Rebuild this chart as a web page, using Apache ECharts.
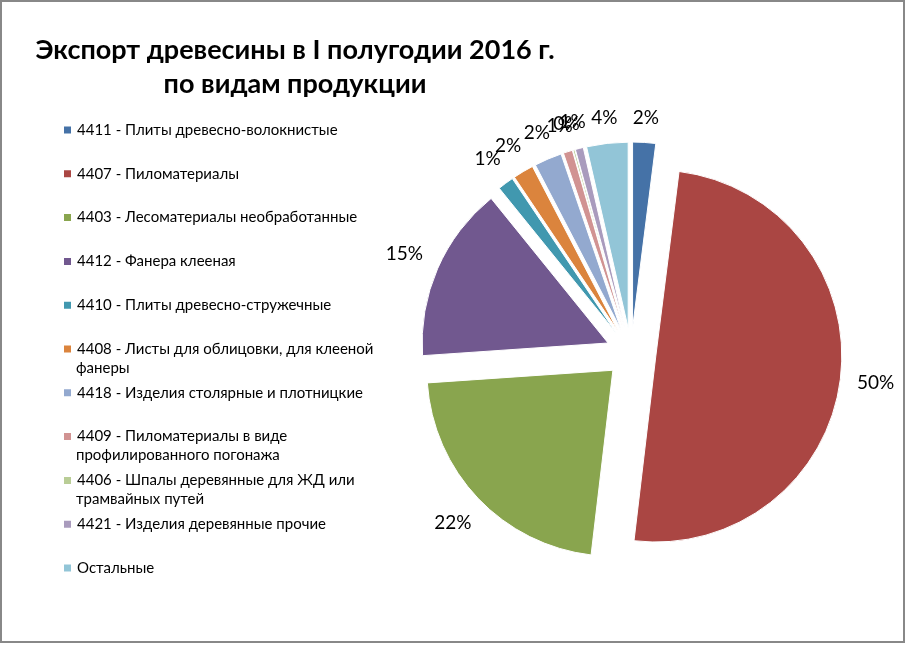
<!DOCTYPE html>
<html>
<head>
<meta charset="utf-8">
<script src="https://cdn.jsdelivr.net/npm/echarts@6/dist/echarts.min.js"></script>
<style>
html,body{margin:0;padding:0;background:#fff;}
#chart{width:907px;height:645px;}
</style>
</head>
<body>
<div id="chart"></div>
<script>
// ---- data ----
const titleLines = ['Экспорт древесины в I полугодии 2016 г.', 'по видам продукции'];
const legendLines = [
  ['4411 - Плиты древесно-волокнистые'],
  ['4407 - Пиломатериалы'],
  ['4403 - Лесоматериалы необработанные'],
  ['4412 - Фанера клееная'],
  ['4410 - Плиты древесно-стружечные'],
  ['4408 - Листы для облицовки, для клееной', 'фанеры'],
  ['4418 - Изделия столярные и плотницкие'],
  ['4409 - Пиломатериалы в виде', 'профилированного погонажа'],
  ['4406 - Шпалы деревянные для ЖД или', 'трамвайных путей'],
  ['4421 - Изделия деревянные прочие'],
  ['Остальные']
];
const categories = legendLines.map(l => l.join(' '));
const shares = [2.0, 50.0, 22.1, 15.3, 1.4, 1.8, 2.4, 0.8, 0.15, 0.7, 3.6];
const colors = ['#4572A7', '#AA4643', '#89A54E', '#71588F', '#4198AF', '#DB843D',
                '#93A9CF', '#D19392', '#B9CD96', '#A99BBD', '#92C5D7'];

// ---- chart ----
const chart = echarts.init(document.getElementById('chart'), null, {renderer: 'canvas'});
const FONT = 'Lato, "Noto Sans", "Liberation Sans", sans-serif';
const LABEL_FONT_SIZE = 19;

const CX = 631, CY = 353, R = 186, OFFSET = 25, LABEL_GAP = 13;
const LABEL_R = R + OFFSET + LABEL_GAP;   // base radius of label centres
const legendCenter0 = 130, legendStep = 43.8, legendRowH = 18;

const contTexts = [];
legendLines.forEach((lines, i) => {
  for (let k = 1; k < lines.length; k++) {
    contTexts.push({
      type: 'text', x: 76, y: legendCenter0 + i * legendStep + k * 19,
      style: {text: lines[k], font: '15px ' + FONT, fill: '#000', verticalAlign: 'middle'}
    });
  }
});

const total = shares.reduce((a, b) => a + b, 0);
function midAngle(idx) { // clockwise from 12 o'clock, radians
  let before = 0;
  for (let i = 0; i < idx; i++) before += shares[i];
  return (before + shares[idx] / 2) / total * 2 * Math.PI;
}
const measureCtx = document.createElement('canvas').getContext('2d');
measureCtx.font = LABEL_FONT_SIZE + 'px ' + FONT;
function pctText(idx) { return Math.round(shares[idx] / total * 100) + '%'; }
function labelPush(idx) { // push label box outward so its near edge clears the pie
  const a = midAngle(idx);
  const dx = Math.sin(a), dy = -Math.cos(a);
  const w = measureCtx.measureText(pctText(idx)).width, h = 16;
  const half = (w / 2) * Math.abs(dx) + (h / 2) * Math.abs(dy);
  return [half * dx, half * dy];
}

const option = {
  animation: false,
  color: colors,
  legend: {
    orient: 'vertical',
    left: 62, top: legendCenter0 - legendRowH / 2,
    padding: 0,
    itemWidth: 9, itemHeight: 9,
    itemGap: legendStep - legendRowH,
    icon: 'rect',
    selectedMode: false,
    data: categories,
    formatter: name => legendLines[categories.indexOf(name)][0],
    textStyle: {fontFamily: FONT, fontSize: 15, color: '#000', lineHeight: legendRowH}
  },
  graphic: [
    {type: 'rect', shape: {x: 1, y: 1, width: 903, height: 641}, style: {fill: 'none', stroke: '#888', lineWidth: 2}},
    {type: 'text', x: 295, y: 67,
     style: {text: titleLines.join('\n'), font: 'bold 27px ' + FONT, fill: '#000', align: 'center', verticalAlign: 'middle', lineHeight: 34}}
  ].concat(contTexts),
  series: [{
    type: 'pie',
    center: [CX, CY],
    radius: R,
    startAngle: 90,
    clockwise: true,
    selectedMode: 'multiple',
    selectedOffset: OFFSET,
    emphasis: {disabled: true},
    itemStyle: {borderColor: '#fff', borderWidth: 1},
    label: {show: false},
    labelLine: {show: false},
    data: categories.map((c, i) => ({name: c, value: shares[i], selected: true}))
  }, {
    // transparent ring that only carries the percentage labels
    type: 'pie',
    center: [CX, CY],
    radius: [LABEL_R - 40, LABEL_R + 40],
    startAngle: 90,
    clockwise: true,
    silent: true,
    avoidLabelOverlap: false,
    emphasis: {disabled: true},
    itemStyle: {color: 'rgba(0,0,0,0)'},
    label: {
      show: true, position: 'inside',
      formatter: p => Math.round(p.percent) + '%',
      fontFamily: FONT, fontSize: LABEL_FONT_SIZE, color: '#000'
    },
    labelLine: {show: false},
    labelLayout: {hideOverlap: false},
    data: categories.map((c, i) => ({name: c, value: shares[i], label: {offset: labelPush(i)}}))
  }]
};
chart.setOption(option);
</script>
</body>
</html>
